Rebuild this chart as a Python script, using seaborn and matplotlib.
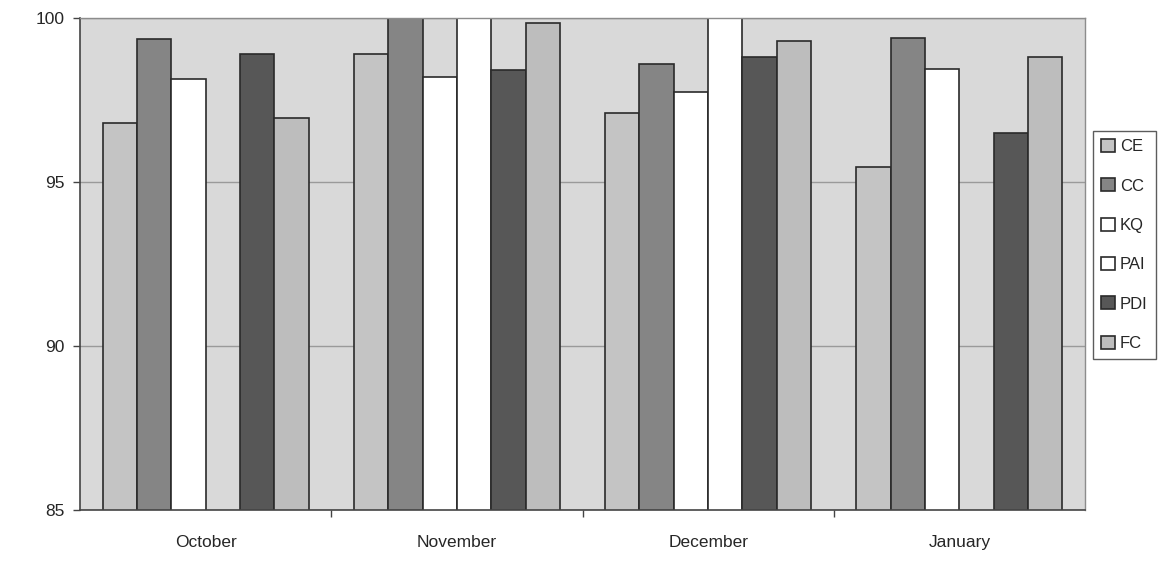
import numpy as np
import pandas as pd
import matplotlib
matplotlib.use("Agg")
import matplotlib.pyplot as plt
import seaborn as sns

months = ["October", "November", "December", "January"]
series = ["CE", "CC", "KQ", "PAI", "PDI", "FC"]
CE = [96.8, 98.9, 97.1, 95.45]
CC = [99.35, 100.0, 98.6, 99.4]
KQ = [98.15, 98.2, 97.75, 98.45]
PAI = [np.nan, 100.0, 100.0, np.nan]
PDI = [98.9, 98.4, 98.8, 96.5]
FC = [96.95, 99.85, 99.3, 98.8]
y_ticks = [85, 90, 95, 100]

colors = {"CE": "#c4c4c4", "CC": "#858585", "KQ": "#ffffff",
          "PAI": "#ffffff", "PDI": "#575757", "FC": "#bdbdbd"}

rows = []
for name, vals in zip(series, [CE, CC, KQ, PAI, PDI, FC]):
    for m, v in zip(months, vals):
        rows.append({"Month": m, "Series": name, "Value": v})
df = pd.DataFrame(rows)

sns.set_theme(style="white")
plt.rcParams["font.family"] = ["Liberation Sans", "DejaVu Sans"]

fig = plt.figure(figsize=(11.71, 5.87), dpi=100)
ax = fig.add_axes([80 / 1171, 1 - 510 / 587, (1085 - 80) / 1171, (510 - 18) / 587])
ax.set_facecolor("#d9d9d9")

sns.barplot(data=df, x="Month", y="Value", hue="Series", order=months,
            hue_order=series, palette=colors, width=0.82, ax=ax,
            edgecolor="#2a2a2a", linewidth=1.2, legend=True, errorbar=None)

ax.set_ylim(85, 100)
ax.set_xlim(-0.5, 3.5)
ax.set_yticks(y_ticks)
ax.set_yticklabels([str(t) for t in y_ticks], fontsize=12.5)
ax.set_xticks(range(len(months)))
ax.set_xticklabels(months, fontsize=12.5)
ax.set_xlabel("")
ax.set_ylabel("")
ax.tick_params(axis="x", length=0, pad=18)
ax.tick_params(axis="y", length=5, width=1, color="#444444", left=True, pad=6)
# category separator ticks on the x-axis
ax.set_xticks([0.5, 1.5, 2.5], minor=True)
ax.tick_params(axis="x", which="minor", length=5, width=1, color="#444444", bottom=True)

ax.yaxis.grid(True, color="#9a9a9a", linewidth=1)
ax.set_axisbelow(True)
for side in ["left", "bottom"]:
    ax.spines[side].set_color("#444444")
    ax.spines[side].set_linewidth(1.2)
for side in ["top", "right"]:
    ax.spines[side].set_color("#8c8c8c")
    ax.spines[side].set_linewidth(1)

handles, labels = ax.get_legend_handles_labels()
ax.get_legend().remove()
leg = fig.legend(handles, labels, loc="center left",
                 bbox_to_anchor=(1093 / 1171, 1 - 245 / 587),
                 frameon=True, fontsize=12, handlelength=0.8, handleheight=0.8,
                 handletextpad=0.3, labelspacing=1.45, borderpad=0.5,
                 fancybox=False, borderaxespad=0)
leg.get_frame().set_edgecolor("#333333")
leg.get_frame().set_linewidth(1)

fig.savefig("out.png", dpi=100, facecolor="white")
